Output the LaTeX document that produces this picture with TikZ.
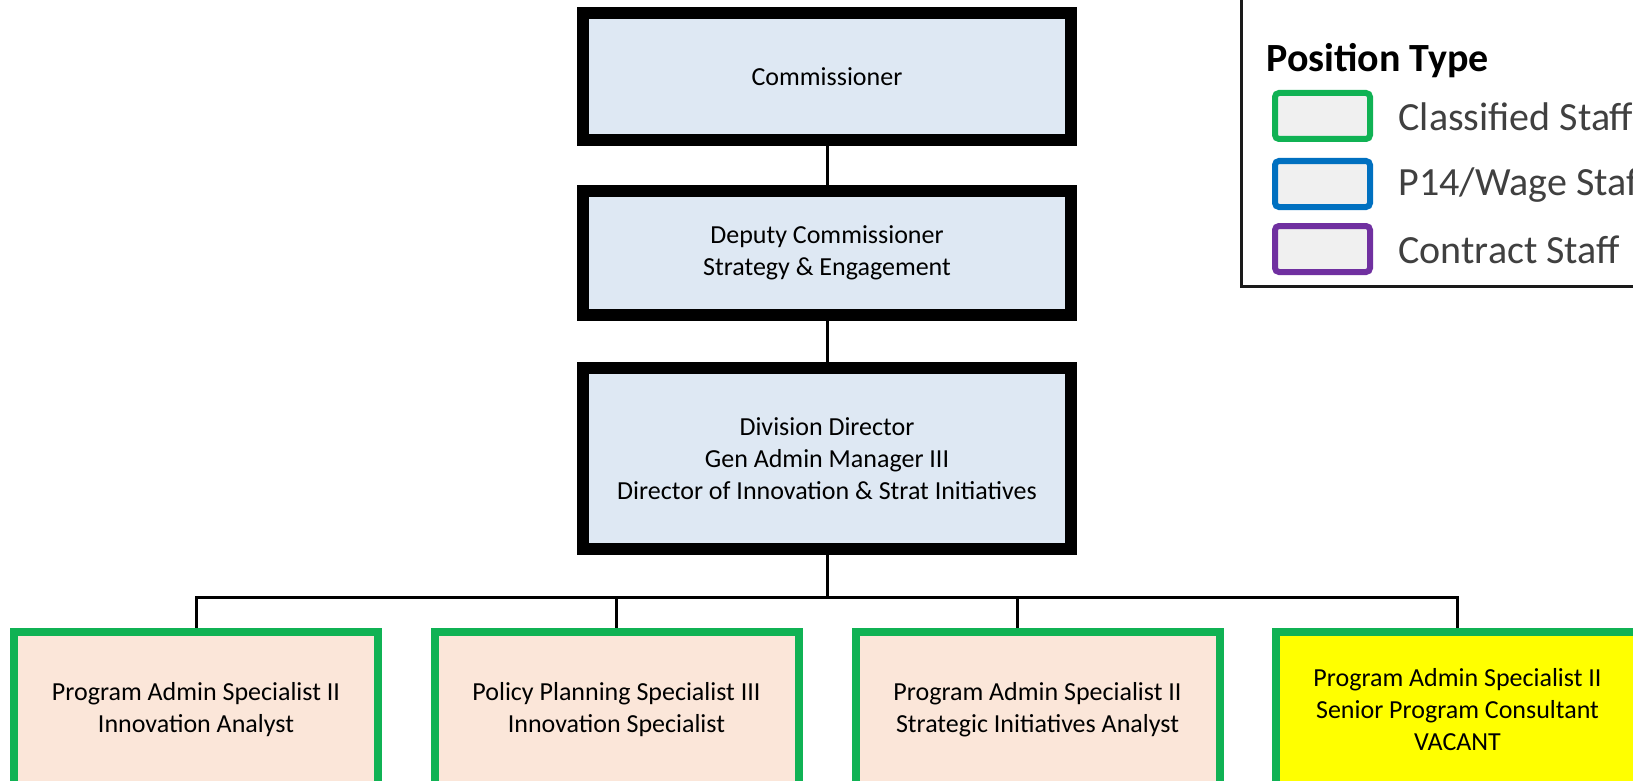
\documentclass[tikz,border=0pt]{standalone}
\usepackage{fontspec}
\setmainfont{Carlito}
\usetikzlibrary{shadows}
\definecolor{boxBlue}{HTML}{DEE8F3}
\definecolor{boxPeach}{HTML}{FBE6D9}
\definecolor{classGreen}{HTML}{10B254}
\definecolor{wageBlue}{HTML}{0070C0}
\definecolor{contractPurple}{HTML}{7030A0}
\definecolor{vacantYellow}{HTML}{FFFF00}
\definecolor{swatchGray}{HTML}{F0F0F0}
\definecolor{legendText}{HTML}{404040}
\definecolor{legendEdge}{HTML}{1A1A1A}
\tikzset{
  boxtext/.style={align=center,font=\fontsize{26}{32}\selectfont},
  lead/.style={boxtext,draw=black,line width=12pt,fill=boxBlue,minimum width=488pt,
    drop shadow={shadow xshift=2pt,shadow yshift=-3pt,opacity=.12}},
  staff/.style={boxtext,draw=classGreen,line width=8pt,fill=boxPeach,minimum width=364pt,minimum height=156pt,
    drop shadow={shadow xshift=2pt,shadow yshift=-3pt,opacity=.12}},
  wire/.style={line width=3pt},
  swatch/.style={line width=6pt,rounded corners=4pt,fill=swatchGray,minimum width=95pt,minimum height=46pt},
  legtext/.style={anchor=base west,text=legendText,font=\fontsize{40}{48}\selectfont},
}
\begin{document}
\begin{tikzpicture}[x=1pt,y=-1pt]
\useasboundingbox (0,0) rectangle (1633,781);
% chain of command
\node[lead,minimum height=127pt] (comm) at (827,76.5) {Commissioner};
\node[lead,minimum height=124pt] (dep) at (827,253) {Deputy Commissioner\\Strategy \& Engagement};
\node[lead,minimum height=181pt] (dir) at (827,458.5) {Division Director\\Gen Admin Manager III\\Director of Innovation \& Strat Initiatives};
% staff row
\node[staff] (pas1) at (196,710) {Program Admin Specialist II\\Innovation Analyst};
\node[staff] (pps) at (616.5,710) {Policy Planning Specialist III\\Innovation Specialist};
\node[staff] (pas2) at (1037.5,710) {Program Admin Specialist II\\Strategic Initiatives Analyst};
\node[staff,fill=vacantYellow] (pas3) at (1457.5,710) {Program Admin Specialist II\\Senior Program Consultant\\VACANT};
% connectors
\coordinate (bus) at (827,597);
\draw[wire] (comm.south) -- (dep.north);
\draw[wire] (dep.south) -- (dir.north);
\draw[wire] (dir.south) -- (bus);
\foreach \n in {pas1,pps,pas3}
  \draw[wire] (bus) -| (\n.north);
\draw[wire] (bus) -| ([xshift=-20.5pt]pas2.north);
% legend
\draw[line width=3pt,draw=legendEdge] (1241.5,-10) rectangle (1700,286.5);
\node[anchor=base west,font=\bfseries\fontsize{40}{48}\selectfont] (ptype) at (1263,72) {Position Type};
\node[swatch,draw=classGreen] (swCls) at (1322.5,116) {};
\node[swatch,draw=wageBlue] (swWage) at (1322.5,184) {};
\node[swatch,draw=contractPurple] (swCon) at (1322.5,249) {};
\node[legtext] (tCls) at (1395,131) {Classified Staff};
\node[legtext] (tWage) at (1395,195) {P14/Wage Staff};
\node[legtext] (tCon) at (1395,263) {Contract Staff};
\end{tikzpicture}
\end{document}
